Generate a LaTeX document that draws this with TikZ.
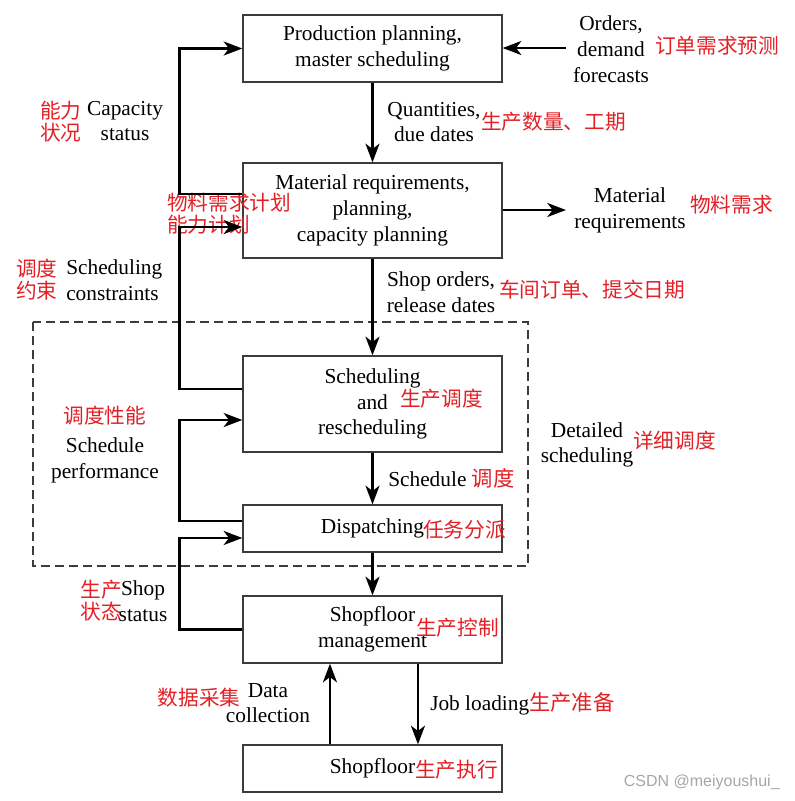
\documentclass[tikz,border=0pt]{standalone}
\usepackage{fontspec}
\setmainfont{Liberation Serif}
\newfontfamily\cjk{Noto Sans CJK SC}
\newfontfamily\wmfont{Liberation Sans}
\usetikzlibrary{arrows.meta,positioning}
\definecolor{cnred}{RGB}{226,32,38}
\definecolor{boxgray}{RGB}{60,60,60}
\tikzstyle{box}=[draw=boxgray, line width=1pt, minimum width=194.25pt, align=center, inner sep=0pt, font=\fontsize{16}{19.3}\selectfont]
\tikzstyle{txt}=[align=center, inner sep=0pt, font=\fontsize{16}{19.3}\selectfont]
\tikzstyle{cn}=[text=cnred, inner sep=0pt, font=\cjk\fontsize{15.5}{16.5}\selectfont]
\tikzstyle{arr}=[line width=1.9pt, -{Stealth[length=14pt,width=10.5pt,inset=4pt]}]

\begin{document}
\begin{tikzpicture}[x=0.75pt, y=-0.75pt]
  \useasboundingbox (0,0) rectangle (794,801);
%
  \node[box, minimum height=50.25pt] (plan) at (372.5,48.5) {Production planning,\\master scheduling};
  \node[box, minimum height=71.25pt] (mrp) at (372.5,210.5) {Material requirements,\\planning,\\capacity planning};
  \node[box, minimum height=72pt] (sched) at (372.5,404) {Scheduling\\and\\rescheduling};
  \node[box, minimum height=35.25pt] (disp) at (372.5,528.5) {Dispatching};
  \node[box, minimum height=50.25pt] (mgmt) at (372.5,629.5) {Shopfloor\\management};
  \node[box, minimum height=35.25pt] (floor) at (372.5,768.5) {Shopfloor};
%
  \draw[boxgray, line width=0.9pt, dash pattern=on 6.75pt off 3.75pt] (33,322) rectangle (528,566);
%
  \coordinate (ord) at (566,48);
  \coordinate (matreq) at (566,210);
%
  \node[txt] (ordtxt) at (611,49) {Orders,\\demand\\forecasts};
  \node[cn, anchor=west] (ordcn) at (655,46) {订单需求预测};
  \node[txt] (qty) at (434,122) {Quantities,\\due dates};
  \node[cn, anchor=west] (qtycn) at (481,122) {生产数量、工期};
  \node[txt] (mattxt) at (630,210) {Material\\requirements};
  \node[cn, anchor=west] (matcn) at (690,205) {物料需求};
  \node[txt] (shopord) at (441,292) {Shop orders,\\release dates};
  \node[cn, anchor=west] (shopordcn) at (499,290) {车间订单、提交日期};
  \node[txt] (cap) at (125,121) {Capacity\\status};
  \node[cn, align=center] (capcn) at (61,122) {能力\\状况};
  \node[cn, align=left, anchor=west] (mrpcn) at (167,214) {物料需求计划\\能力计划};
  \node[txt, align=left, anchor=west] (cons) at (66,280) {Scheduling\\constraints};
  \node[cn, align=center] (conscn) at (37,280) {调度\\约束};
  \node[cn] (perfcn) at (105,416) {调度性能};
  \node[txt] (perf) at (105,460) {Schedule\\performance};
  \node[cn, anchor=west] (schedcn) at (400,399) {生产调度};
  \node[txt, anchor=west] (schtxt) at (388,478) {Schedule {\cjk\color{cnred}调度}};
  \node[cn, anchor=west] (dispcn) at (423,530) {任务分派};
  \node[txt] (detail) at (587,445) {Detailed\\scheduling};
  \node[cn, anchor=west] (detailcn) at (633,441) {详细调度};
  \node[cn, align=center] (statcn) at (101,601) {生产\\状态};
  \node[txt] (stat) at (143,601) {Shop\\status};
  \node[cn, anchor=west] (mgmtcn) at (416,628) {生产控制};
  \node[cn] (datacn) at (199,698) {数据采集};
  \node[txt] (data) at (268,703) {Data\\collection};
  \node[txt, anchor=west] (job) at (430,704) {Job loading{\cjk\color{cnred}生产准备}};
  \node[cn, anchor=west] (floorcn) at (415,770) {生产执行};
  \node[text=gray!70, anchor=east, inner sep=0pt, font=\wmfont\fontsize{12}{14}\selectfont] (wm) at (780,782) {CSDN @meiyoushui\_};
%
  \draw[arr] (plan) -- (mrp);
  \draw[arr] (mrp) -- (sched);
  \draw[arr] (sched) -- (disp);
  \draw[arr] (disp) -- (mgmt);
  \draw[arr] ([xshift=34.1pt]mgmt.south) -- ([xshift=34.1pt]floor.north);
  \draw[arr] ([xshift=-31.9pt]floor.north) -- ([xshift=-31.9pt]mgmt.south);
  \draw[arr] (ord) -- (plan.east |- ord);
  \draw[arr] (mrp.east |- matreq) -- (matreq);
%
  \draw[arr] ([yshift=12.4pt]mrp.west) -- ++(-47.25pt,0) |- (plan.west);
  \draw[arr] ([yshift=11.25pt]sched.west) -- ++(-47.25pt,0) |- ([yshift=-12.4pt]mrp.west);
  \draw[arr] ([yshift=5.6pt]disp.west) -- ++(-47.25pt,0) |- ([yshift=-12pt]sched.west);
  \draw[arr] (mgmt.west) -- ++(-47.25pt,0) |- ([yshift=-7.1pt]disp.west);
%
\end{tikzpicture}
\end{document}
